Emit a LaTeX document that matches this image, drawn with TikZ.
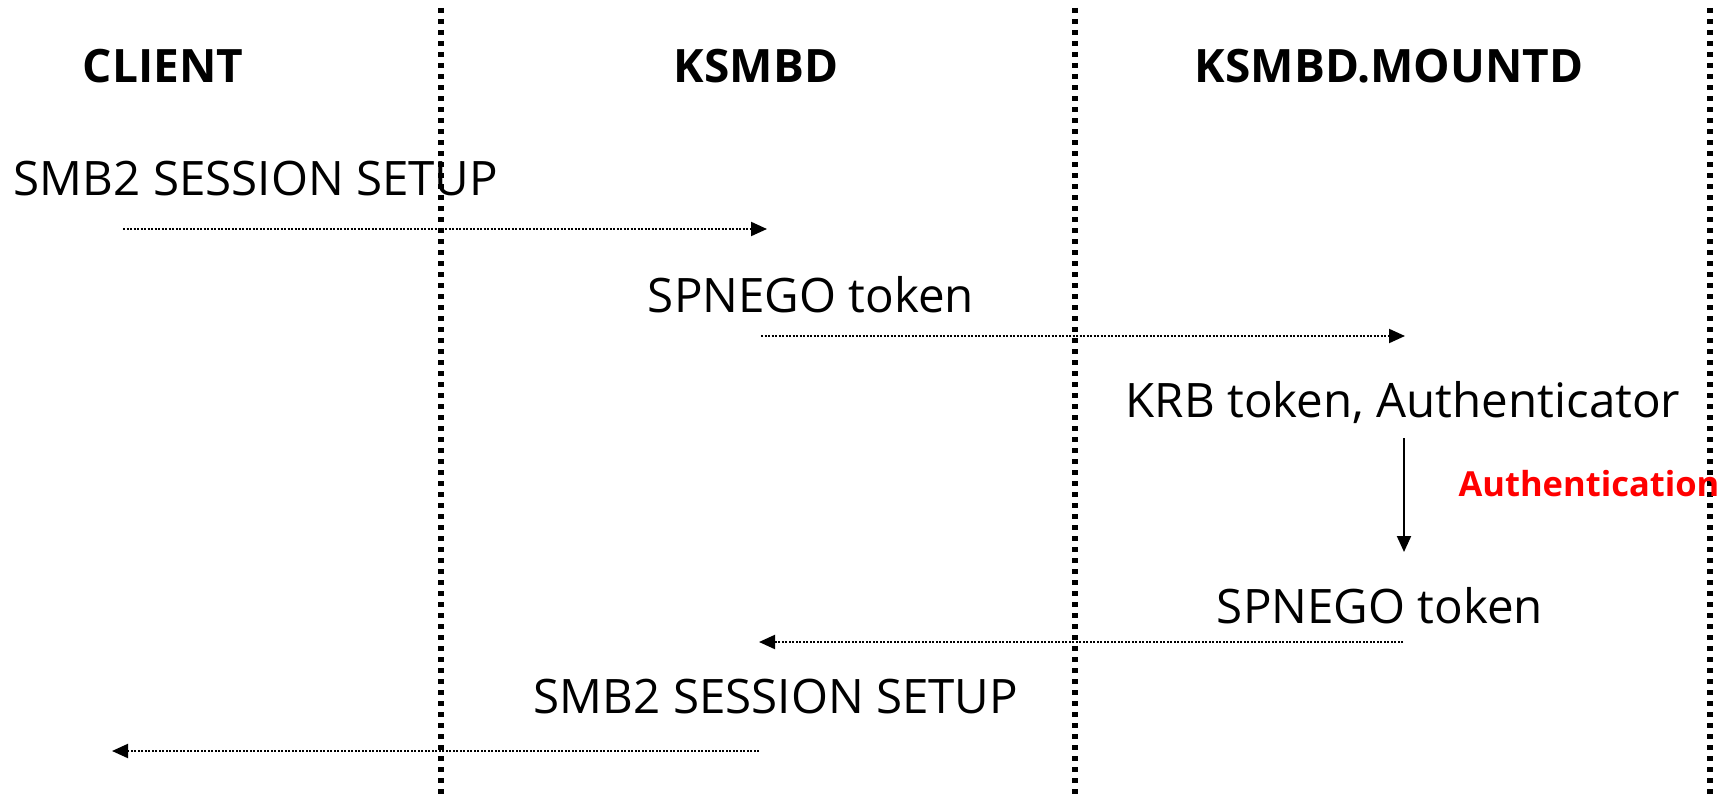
\documentclass[tikz,border=0pt]{standalone}
\usepackage{fontspec}
\setmainfont{Open Sans}
\usetikzlibrary{arrows.meta}

\begin{document}
\begin{tikzpicture}[x=1pt, y=-1pt,
  lane/.style={line width=5.5pt, dash pattern=on 5pt off 6pt},
  msg/.style={line width=2pt, dash pattern=on 2pt off 1.5pt, -{Triangle[length=16pt,width=14pt]}},
  head/.style={font=\fontsize{46}{50}\selectfont\bfseries},
  txt/.style={font=\fontsize{47.5}{52}\selectfont}]
 \useasboundingbox (0,0) rectangle (1724,800);

 % lanes
 \draw[lane] (441,8) -- (441,800);
 \draw[lane] (1075,8) -- (1075,800);
 \draw[lane] (1710,8) -- (1710,800);

 \draw (163,66) node[head] (client) {CLIENT};
 \draw (756,66) node[head] (ksmbd) {KSMBD};
 \draw (1389,66) node[head] (mountd) {KSMBD.MOUNTD};

 \draw (256,179) node[txt] (req) {SMB2 SESSION SETUP};
 \draw (811,295) node[txt] (spnego1) {SPNEGO token};
 \draw (1403,403) node[txt] (krb) {KRB token, Authenticator};
 \draw (1589,484) node[font=\fontsize{34.5}{38}\selectfont\bfseries, text=red] (auth) {Authentication};
 \draw (1380,606) node[txt] (spnego2) {SPNEGO token};
 \draw (776,697) node[txt] (rsp) {SMB2 SESSION SETUP};

 \coordinate (a1s) at (123,229);
 \coordinate (a1e) at (767,229);
 \coordinate (a2s) at (761,336);
 \coordinate (a2e) at (1405,336);
 \coordinate (a3s) at (1404,438);
 \coordinate (a3e) at (1404,552);
 \coordinate (a4s) at (1403,642);
 \coordinate (a4e) at (759,642);
 \coordinate (a5s) at (759,751);
 \coordinate (a5e) at (112,751);

 \draw[msg] (a1s) -- (a1e);
 \draw[msg] (a2s) -- (a2e);
 \draw[line width=2pt, -{Triangle[length=16pt,width=14pt]}] (a3s) -- (a3e);
 \draw[msg] (a4s) -- (a4e);
 \draw[msg] (a5s) -- (a5e);
\end{tikzpicture}
\end{document}
